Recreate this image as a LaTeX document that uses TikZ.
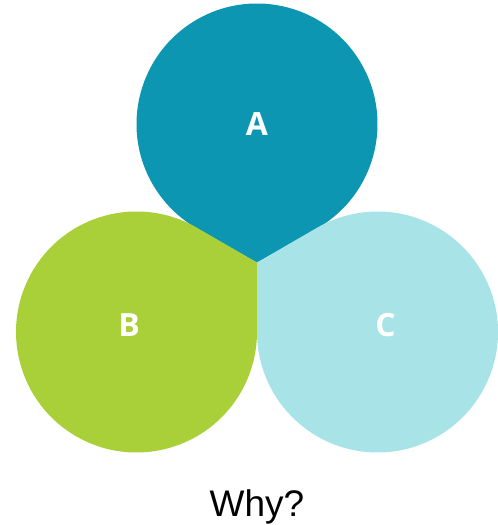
\documentclass[tikz,border=0pt]{standalone}
\usepackage{fontspec}
\setmainfont{Liberation Sans}
\newfontfamily\labelfont{Open Sans}
\definecolor{colA}{RGB}{13,150,177}
\definecolor{colB}{RGB}{170,208,57}
\definecolor{colC}{RGB}{168,228,231}
\tikzset{
  lbl/.style={text=white,font=\labelfont\bfseries\fontsize{32}{32}\selectfont,inner sep=0pt},
  capt/.style={text=black,font=\fontsize{37}{37}\selectfont,inner sep=0pt,anchor=base}
}
\begin{document}
\begin{tikzpicture}[x=1pt,y=1pt]
\useasboundingbox (0,0) rectangle (498,525);
\def\R{120.5}
\coordinate (Ac) at (257,401);
\coordinate (Bc) at (136.5,193);
\coordinate (Cc) at (377.5,193);
\coordinate (O) at (257,262.4);
\fill[colA] (Ac) ++(300:\R) arc[start angle=300,end angle=600,radius=\R] -- (O) -- cycle;
\fill[colB] (Bc) ++(60:\R) arc[start angle=60,end angle=360,radius=\R] -- (O) -- cycle;
\fill[colC] (Cc) ++(180:\R) arc[start angle=180,end angle=480,radius=\R] -- (O) -- cycle;
\node[lbl] (A) at (257,401) {A};
\node[lbl] (B) at (129,200) {B};
\node[lbl] (C) at (385.5,200) {C};
\node[capt] (W) at (257,8.5) {Why?};
\end{tikzpicture}
\end{document}
